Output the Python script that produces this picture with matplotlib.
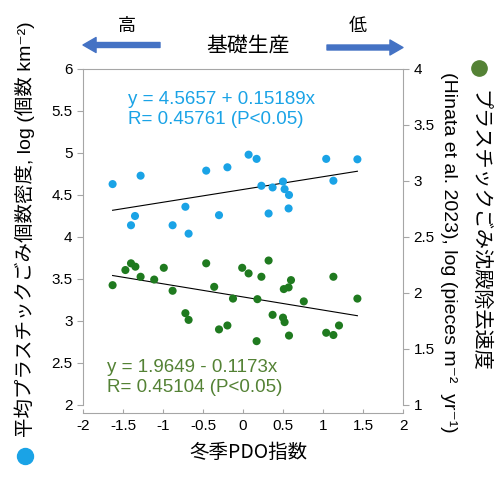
import matplotlib
matplotlib.use("Agg")
import matplotlib.pyplot as plt
from matplotlib.lines import Line2D
import numpy as np

plt.rcParams['font.family'] = ['Liberation Sans', 'Noto Sans CJK JP', 'DejaVu Sans']
plt.rcParams['axes.unicode_minus'] = False

# 平均プラスチックごみ個数密度 (左軸, 青)
pdo_blue = [-1.63, -1.28, -1.35, -1.40, -0.88, -0.72, -0.68, -0.46, -0.195, -0.30, 0.07,
            0.17, 0.23, 0.32, 0.37, 0.50, 0.52, 0.575, 0.57, 1.04, 1.13, 1.43]
density = [4.63, 4.73, 4.25, 4.14, 4.14, 4.36, 4.04, 4.79, 4.83, 4.26, 4.98,
           4.93, 4.61, 4.28, 4.59, 4.66, 4.57, 4.50, 4.34, 4.93, 4.67, 4.925]

# プラスチックごみ沈殿除去速度 (右軸, 緑)
pdo_green = [-1.63, -1.47, -1.40, -1.345, -1.28, -1.11, -0.99, -0.88, -0.72, -0.68, -0.46,
             -0.36, -0.30, -0.195, -0.125, -0.01, 0.07, 0.17, 0.18, 0.23, 0.32, 0.37,
             0.50, 0.52, 0.51, 0.57, 0.60, 0.575, 0.76, 1.04, 1.13, 1.13, 1.20, 1.43]
removal = [2.07, 2.205, 2.265, 2.235, 2.145, 2.12, 2.225, 2.02, 1.82, 1.76, 2.265,
           2.055, 1.675, 1.71, 1.95, 2.225, 2.175, 1.57, 1.945, 2.145, 2.29, 1.805,
           1.78, 1.74, 2.035, 2.05, 2.115, 1.62, 1.925, 1.645, 1.625, 2.145, 1.71, 1.95]

# 回帰係数 (図中の式)
fit_blue = (4.5657, 0.15189)
fit_green = (1.9649, -0.1173)

BLUE = "#1aa3e6"
GREEN_PT = "#1f7a1f"
GREEN_TXT = "#548235"
ARROW = "#4472c4"
GRAY = "#a6a6a6"

fig = plt.figure(figsize=(5.0, 4.88), dpi=100)
W, H = 500, 488
ax = fig.add_axes([83 / W, 1 - 405 / H, 320 / W, 336 / H])
ax2 = ax.twinx()

ax.scatter(pdo_blue, density, s=34, color=BLUE, edgecolors="none", zorder=3)
xb = np.array([min(pdo_blue), max(pdo_blue)])
ax.plot(xb, fit_blue[0] + fit_blue[1] * xb, color="black", lw=0.8, zorder=2)

ax2.scatter(pdo_green, removal, s=34, color=GREEN_PT, edgecolors="none", zorder=3)
xg = np.array([min(pdo_green), max(pdo_green)])
ax2.plot(xg, fit_green[0] + fit_green[1] * xg, color="black", lw=0.8, zorder=2)

ax.set_xlim(-2, 2)
ax.set_ylim(2, 6)
ax2.set_ylim(1, 4)
ax.set_xticks(np.arange(-2, 2.01, 0.5))
ax.set_xticklabels(["%g" % v for v in np.arange(-2, 2.01, 0.5)])
ax.set_yticks(np.arange(2, 6.01, 0.5))
ax.set_yticklabels(["%g" % v for v in np.arange(2, 6.01, 0.5)])
ax2.set_yticks(np.arange(1, 4.01, 0.5))
ax2.set_yticklabels(["%g" % v for v in np.arange(1, 4.01, 0.5)])

for s in ax.spines.values():
    s.set_color(GRAY)
    s.set_linewidth(0.8)
ax.spines["right"].set_visible(False)
ax.spines["bottom"].set_position(("outward", 6))
for name, s in ax2.spines.items():
    s.set_color(GRAY)
    s.set_linewidth(0.8)
    if name != "right":
        s.set_visible(False)

ax.tick_params(axis="x", direction="in", length=3, color=GRAY, labelsize=11, pad=4)
ax.tick_params(axis="y", direction="out", length=4.5, color=GRAY, labelsize=11, pad=3)
ax2.tick_params(axis="y", direction="out", length=4.5, color=GRAY, labelsize=11, pad=3)

ax.text(-1.44, 5.52, "y = 4.5657 + 0.15189x\nR= 0.45761 (P<0.05)", color=BLUE,
        fontsize=13.5, ha="left", va="center", linespacing=1.25)
ax2.text(-1.70, 1.245, "y = 1.9649 - 0.1173x\nR= 0.45104 (P<0.05)", color=GREEN_TXT,
         fontsize=13.5, ha="left", va="center", linespacing=1.25)

# x 軸ラベル
fig.text(248 / W, 1 - 452 / H, "冬季PDO指数", fontsize=14, ha="center", va="center",
         family=["Noto Sans CJK JP", "DejaVu Sans"])

# 左軸ラベル + 青丸
fig.text(25 / W, 1 - 437 / H, "平均プラスチックごみ個数密度, log (個数 km⁻²)",
         rotation=90, fontsize=14, ha="center", va="bottom")
fig.add_artist(Line2D([25 / W], [1 - 456 / H], marker="o", ms=11.5, color=BLUE,
                      transform=fig.transFigure))

# 右軸ラベル (2 行) + 緑丸
fig.text(479 / W, 1 - 90 / H, "プラスチックごみ沈殿除去速度", rotation=-90,
         fontsize=14.5, ha="center", va="top")
fig.text(448 / W, 1 - 72 / H, "(Hinata et al. 2023), log (pieces m⁻²  yr⁻¹)",
         rotation=-90, fontsize=14, ha="center", va="top")
fig.add_artist(Line2D([479 / W], [1 - 68 / H], marker="o", ms=11, color=GREEN_TXT,
                      transform=fig.transFigure))

# 上部: 基礎生産 の矢印
astyle = "simple,head_length=0.94,head_width=1.08,tail_width=0.36"
ax.annotate("", xy=(83, H - 45), xytext=(160, H - 45), xycoords="figure pixels",
            textcoords="figure pixels",
            arrowprops=dict(arrowstyle=astyle, mutation_scale=10, color=ARROW,
                            shrinkA=0, shrinkB=0), annotation_clip=False)
ax.annotate("", xy=(403, H - 47.5), xytext=(327, H - 47.5), xycoords="figure pixels",
            textcoords="figure pixels",
            arrowprops=dict(arrowstyle=astyle, mutation_scale=10, color=ARROW,
                            shrinkA=0, shrinkB=0), annotation_clip=False)
fig.text(127 / W, 1 - 27 / H, "高", fontsize=13, ha="center", va="center")
fig.text(358 / W, 1 - 27 / H, "低", fontsize=13, ha="center", va="center")
fig.text(248 / W, 1 - 46 / H, "基礎生産", fontsize=15, ha="center", va="center")

fig.savefig("out.png", dpi=100)
